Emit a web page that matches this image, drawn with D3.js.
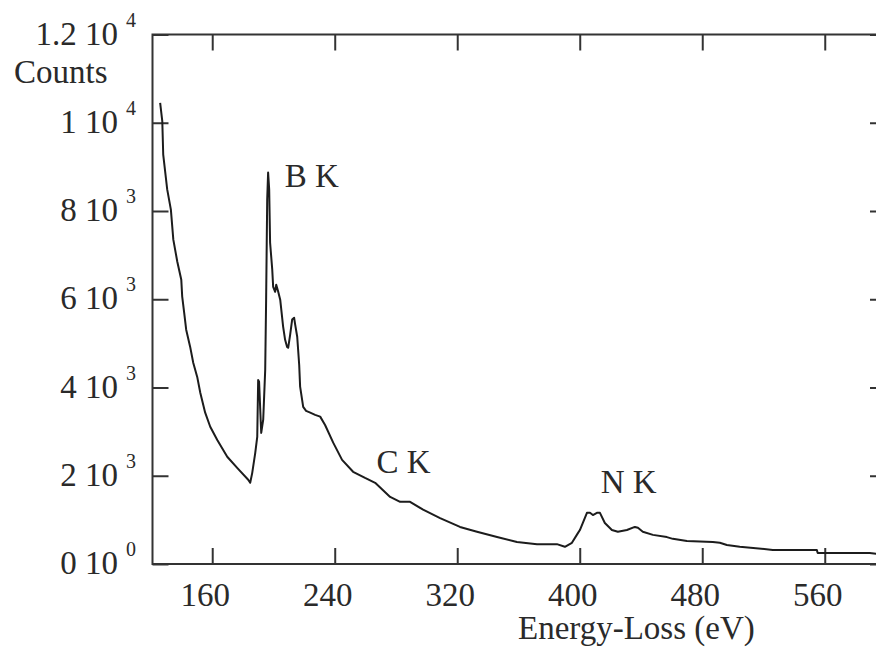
<!DOCTYPE html>
<html>
<head>
<meta charset="utf-8">
<script src="https://cdn.jsdelivr.net/npm/d3@7"></script>
<style>
  html, body { margin: 0; padding: 0; background: #fff; }
  svg { display: block; }
  text { font-family: "Liberation Serif", "Times New Roman", serif; fill: #2a2a2a; }
</style>
</head>
<body>
<svg id="chart" width="876" height="647"></svg>
<script>
// EELS spectrum: energy loss (eV) vs counts
const energy = [126, 127.4, 128, 130.6, 133, 134.6, 137.2, 139.8, 140.4, 141.7, 143, 145.6, 147.6, 150.2, 152.2, 155.4, 158.7, 163.3, 169.8, 176.3,
  183.5, 184.8, 186.1, 188.1, 189.4, 190, 190.6, 192, 193.3, 194.6, 195.2, 195.6, 195.9, 196.5, 197.2, 197.8, 199.2, 199.8, 201.1, 201.8,
  203.1, 204.4, 206.3, 207.6, 208.9, 209.6, 210.9, 212.2, 213.5, 214.2, 215.5, 216.8, 217.4, 219.4, 221.3, 224, 227.2, 230.5, 233.7, 239,
  244.8, 252, 259.8, 266.4, 276.2, 282.7, 289.2, 297.7, 308.8, 321.8, 332.9, 346, 359, 372.1, 385.1, 390.3, 394.9, 398.8, 400.1, 404.7,
  406.7, 408.6, 411.2, 413.2, 416.4, 421, 424.9, 430.8, 436, 438, 441.2, 447.8, 456.9, 460.8, 470, 486.9, 491.5, 496.1, 504.5, 526.1,
  554.8, 555.4, 589.4, 600];
const counts = [10450, 10030, 9280, 8490, 8030, 7350, 6850, 6440, 6060, 5690, 5310, 4920, 4560, 4240, 3880, 3430, 3110, 2810, 2430, 2180,
  1910, 1840, 2060, 2520, 2880, 4170, 4130, 2970, 3270, 4400, 5990, 7280, 8260, 8870, 8490, 7280, 6670, 6280, 6170, 6330,
  6170, 5990, 5380, 5080, 4920, 4900, 5200, 5540, 5580, 5420, 5150, 4510, 4020, 3560, 3470, 3430, 3380, 3340, 3150, 2750,
  2360, 2090, 1950, 1840, 1520, 1410, 1410, 1230, 1040, 840, 730, 610, 500, 450, 450, 390, 480, 700, 770, 1160,
  1160, 1110, 1160, 1160, 930, 770, 730, 770, 840, 820, 730, 660, 610, 570, 520, 500, 480, 430, 390, 320,
  320, 250, 250, 200];

const xTicks = [160, 240, 320, 400, 480, 560];
const yTicks = [0, 2000, 4000, 6000, 8000, 10000, 12000];
// tick label parts: mantissa and power of ten
const yMantissa = ["0", "2", "4", "6", "8", "1", "1.2"];
const yExponent = ["0", "3", "3", "3", "3", "4", "4"];

const edgeLabels = [
  { text: "B K", e: 225, c: 8550 },
  { text: "C K", e: 285, c: 2070 },
  { text: "N K", e: 432, c: 1600 }
];

const svg = d3.select("#chart");
const plotLeft = 152.5, plotRight = 886, plotTop = 34.5, plotBottom = 564;
const fontSize = 33;

const x = d3.scaleLinear().domain([121, 600]).range([plotLeft, plotRight]);
const y = d3.scaleLinear().domain([0, 12000]).range([plotBottom, plotTop]);

const axisColor = "#333";
const tickLen = 16;

// ticks pointing into the plot on all four sides
const gB = svg.append("g").attr("transform", `translate(0,${plotBottom})`)
  .call(d3.axisBottom(x).tickValues(xTicks).tickSize(-tickLen).tickSizeOuter(0).tickFormat(""));
const gT = svg.append("g").attr("transform", `translate(0,${plotTop})`)
  .call(d3.axisTop(x).tickValues(xTicks).tickSize(-tickLen).tickSizeOuter(0).tickFormat(""));
const gL = svg.append("g").attr("transform", `translate(${plotLeft},0)`)
  .call(d3.axisLeft(y).tickValues(yTicks).tickSize(-tickLen).tickSizeOuter(0).tickFormat(""));
const gR = svg.append("g").attr("transform", `translate(${plotRight},0)`)
  .call(d3.axisRight(y).tickValues(yTicks).tickSize(-tickLen).tickSizeOuter(0).tickFormat(""));
[gB, gT, gL, gR].forEach(g => {
  g.select(".domain").remove();
  g.selectAll(".tick line").attr("stroke", axisColor).attr("stroke-width", 2);
});

// frame
svg.append("rect")
  .attr("x", plotLeft).attr("y", plotTop)
  .attr("width", plotRight - plotLeft).attr("height", plotBottom - plotTop)
  .attr("fill", "none").attr("stroke", axisColor).attr("stroke-width", 2);

// spectrum
const pts = energy.map((e, i) => [e, counts[i]]);
svg.append("path")
  .datum(pts)
  .attr("fill", "none")
  .attr("stroke", "#1c1c1c")
  .attr("stroke-width", 2)
  .attr("stroke-linejoin", "round")
  .attr("d", d3.line().x(d => x(d[0])).y(d => y(d[1])));

// x tick labels
svg.append("g").selectAll("text").data(xTicks).join("text")
  .attr("x", d => x(d) - 7).attr("y", plotBottom + 42)
  .attr("text-anchor", "middle")
  .attr("font-size", fontSize)
  .text(d => d);

// y tick labels, "m 10" with a raised exponent
const yl = svg.append("g").selectAll("text").data(yTicks).join("text")
  .attr("x", 136).attr("y", d => y(d) + 10)
  .attr("text-anchor", "end")
  .attr("font-size", fontSize);
yl.append("tspan").text((d, i) => yMantissa[i] + " 10");
yl.append("tspan").attr("dx", 8).attr("dy", -18).attr("font-size", 20).text((d, i) => yExponent[i]);

// axis titles
svg.append("text").attr("x", 14).attr("y", 83).attr("font-size", fontSize).text("Counts");
svg.append("text").attr("x", 518).attr("y", 639).attr("font-size", fontSize).text("Energy-Loss (eV)");

// core-edge labels
svg.append("g").selectAll("text").data(edgeLabels).join("text")
  .attr("x", d => x(d.e)).attr("y", d => y(d.c))
  .attr("text-anchor", "middle")
  .attr("font-size", fontSize)
  .text(d => d.text);
</script>
</body>
</html>
